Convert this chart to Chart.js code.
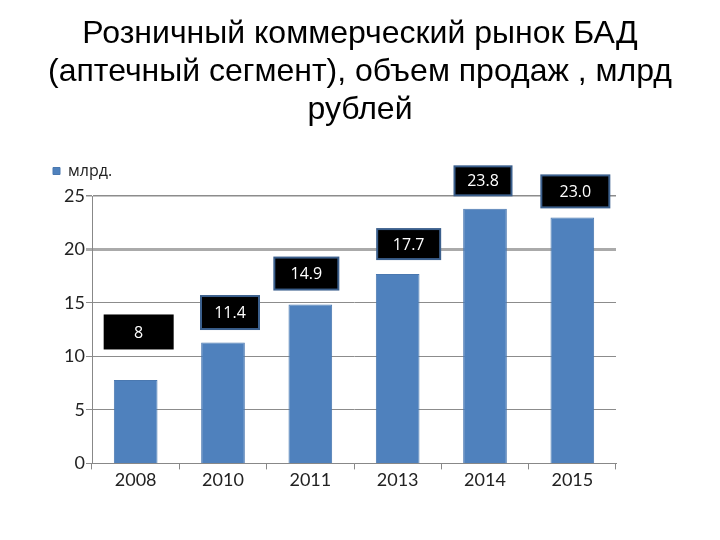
<!DOCTYPE html>
<html>
<head>
<meta charset="utf-8">
<script src="https://cdn.jsdelivr.net/npm/chart.js@4.4.0/dist/chart.umd.min.js"></script>
<style>
  html, body { margin: 0; padding: 0; background: #fff; }
  #wrap { position: relative; width: 720px; height: 540px; }
  #title {
    position: absolute; left: 0; top: 13px; width: 720px;
    text-align: center; color: #000;
    font-family: "Liberation Sans", Arial, sans-serif;
    font-size: 32px; line-height: 38px;
  }
</style>
</head>
<body>
<div id="wrap">
  <canvas id="myChart" width="720" height="540"></canvas>
  <div id="title">Розничный коммерческий рынок БАД<br>(аптечный сегмент), объем продаж , млрд<br>рублей</div>
</div>
<script>
var years = ['2008', '2010', '2011', '2013', '2014', '2015'];
var sales = [7.8, 11.3, 14.85, 17.7, 23.8, 23.0];
var labelTexts = ['8', '11.4', '14.9', '17.7', '23.8', '23.0'];
var yTicks = [0, 5, 10, 15, 20, 25];

// boxes drawn over the bars, like the callouts in the slide
var boxLabels = {
  id: 'boxLabels',
  afterInit: function(chart) {
    // a bit more room under the legend
    var fit = chart.legend.fit;
    chart.legend.fit = function() { fit.call(this); this.height += 7; };
  },
  afterDatasetsDraw: function(chart, args, opts) {
    var ctx = chart.ctx;
    var meta = chart.getDatasetMeta(0);
    ctx.save();
    ctx.font = '16px "Open Sans", sans-serif';
    ctx.textAlign = 'center';
    ctx.textBaseline = 'middle';
    meta.data.forEach(function(bar, i) {
      var w = opts.widths[i], h = opts.heights[i];
      var cx = bar.x + opts.dx[i];
      var cy = bar.y - opts.dy[i];
      ctx.fillStyle = '#000';
      ctx.fillRect(cx - w / 2, cy - h / 2, w, h);
      if (i > 0) {
        ctx.strokeStyle = '#3b5f8c';
        ctx.lineWidth = 2;
        ctx.strokeRect(cx - w / 2, cy - h / 2, w, h);
      }
      ctx.fillStyle = '#fff';
      ctx.fillText(labelTexts[i], cx, cy + 1);
    });
    ctx.restore();
  }
};

var ctx = document.getElementById('myChart').getContext('2d');
var myChart = new Chart(ctx, {
  type: 'bar',
  data: {
    labels: years,
    datasets: [{
      label: 'млрд.',
      data: sales,
      backgroundColor: '#4f81bd',
      borderColor: '#4a78b0',
      borderWidth: 1,
      categoryPercentage: 1,
      barPercentage: 0.5
    }]
  },
  options: {
    responsive: false,
    animation: false,
    layout: { padding: { left: 33, right: 104, top: 143, bottom: 49 } },
    plugins: {
      legend: {
        align: 'start',
        labels: {
          boxWidth: 7, boxHeight: 7,
          color: '#222',
          font: { family: '"Open Sans", sans-serif', size: 16 },
          padding: 20
        }
      },
      tooltip: { enabled: false },
      boxLabels: {
        widths: [70, 58, 64, 63, 57, 68],
        heights: [35, 33, 32, 30, 29, 32],
        dx: [3, 7, -4, 11, -2, 3],
        dy: [48, 30, 31, 30, 28, 26]
      }
    },
    scales: {
      x: {
        grid: { display: true, drawOnChartArea: false, color: '#888', tickLength: 6, offset: true },
        border: { color: '#888' },
        ticks: { color: '#222', font: { family: 'Lato, sans-serif', size: 18 }, padding: 0 }
      },
      y: {
        min: 0, max: 25,
        afterBuildTicks: function(axis) { axis.ticks = yTicks.map(function(v) { return { value: v }; }); },
        afterFit: function(axis) { axis.width = 59; },
        grid: {
          color: function(c) { return c.tick && c.tick.value === 20 ? '#aaa' : '#8c8c8c'; },
          lineWidth: function(c) { return c.tick && c.tick.value === 20 ? 3 : (c.tick && c.tick.value === 25 ? 1.5 : 1); },
          tickLength: 6
        },
        border: { color: '#888' },
        ticks: { color: '#222', font: { family: 'Lato, sans-serif', size: 18 }, padding: 1 }
      }
    }
  },
  plugins: [boxLabels]
});
</script>
</body>
</html>
